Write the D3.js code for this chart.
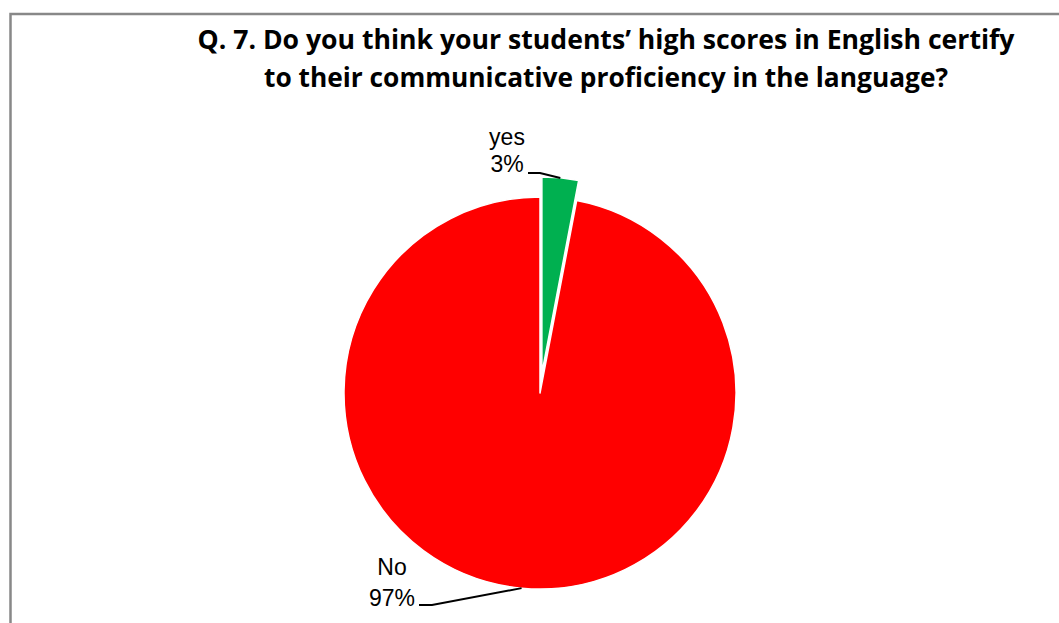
<!DOCTYPE html>
<html>
<head>
<meta charset="utf-8">
<script src="https://cdn.jsdelivr.net/npm/d3@7"></script>
<style>
  html, body { margin: 0; padding: 0; background: #fff; }
  svg { display: block; }
</style>
</head>
<body>
<svg id="chart" width="1059" height="623"></svg>
<script>
// Survey answers for question 7
const categories = ["yes", "No"];
const values = [3, 97];
const colors = ["#00b050", "#ff0000"];
const titleLines = [
  "Q. 7. Do you think your students\u2019 high scores in English certify",
  "to their communicative proficiency in the language?"
];

const svg = d3.select("#chart");

// chart frame (open on the right and bottom edges of the view)
svg.append("rect")
  .attr("x", 10.5).attr("y", 14)
  .attr("width", 1100).attr("height", 700)
  .attr("fill", "#fff")
  .attr("stroke", "#888")
  .attr("stroke-width", 2.5);

// title
const titleWidths = [817, 684];
const titleY = [49, 87];
svg.append("g").selectAll("text")
  .data(titleLines)
  .join("text")
  .attr("x", 606)
  .attr("y", (d, i) => titleY[i])
  .attr("text-anchor", "middle")
  .attr("font-family", "'Open Sans', Lato, sans-serif")
  .attr("font-weight", "bold")
  .attr("font-size", 26)
  .attr("fill", "#000")
  .attr("textLength", (d, i) => titleWidths[i])
  .attr("lengthAdjust", "spacingAndGlyphs")
  .text(d => d);

// pie
const cx = 540, cy = 393, r = 196;
const explode = [20, 0];
const data = categories.map((c, i) => ({ category: c, value: values[i], color: colors[i], explode: explode[i] }));
const pie = d3.pie().value(d => d.value).sort(null);
const arcs = pie(data);
const arc = d3.arc().innerRadius(0).outerRadius(r);

const g = svg.append("g").attr("transform", `translate(${cx},${cy})`);

function offset(d) {
  const mid = (d.startAngle + d.endAngle) / 2;
  return [Math.sin(mid) * d.data.explode, -Math.cos(mid) * d.data.explode];
}

g.selectAll("path")
  .data(arcs.slice().reverse())
  .join("path")
  .attr("transform", d => `translate(${offset(d)})`)
  .attr("d", arc)
  .attr("fill", d => d.data.color)
  .attr("stroke", "#fff")
  .attr("stroke-width", 1.5)
  .attr("stroke-linejoin", "round");

// data labels with leader lines
const labelFont = "'Liberation Sans', Arial, sans-serif";
const labelPos = [
  { x: 507, y1: 145, y2: 172, lineStart: [528, 173], elbow: [540, 173] },
  { x: 392, y1: 575, y2: 606, lineStart: [419, 605], elbow: [432, 605] }
];

arcs.forEach((d, i) => {
  const mid = (d.startAngle + d.endAngle) / 2;
  const [ox, oy] = offset(d);
  const ex = cx + ox + Math.sin(mid) * r;
  const ey = cy + oy - Math.cos(mid) * r;
  const p = labelPos[i];
  svg.append("path")
    .attr("d", d3.line()([p.lineStart, p.elbow, [ex, ey]]))
    .attr("fill", "none")
    .attr("stroke", "#000")
    .attr("stroke-width", 2);
  const t = svg.append("text")
    .attr("text-anchor", "middle")
    .attr("font-family", labelFont)
    .attr("font-size", 23)
    .attr("fill", "#000");
  t.append("tspan").attr("x", p.x).attr("y", p.y1).text(d.data.category);
  t.append("tspan").attr("x", p.x).attr("y", p.y2).text(d.data.value + "%");
});
</script>
</body>
</html>
